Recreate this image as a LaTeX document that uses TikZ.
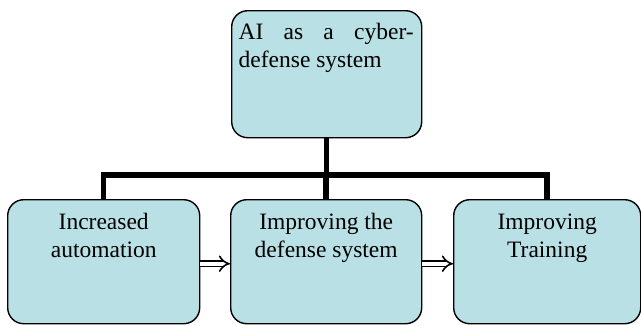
\documentclass[tikz,border=0pt]{standalone}
\usepackage{fontspec}
\setmainfont{Liberation Serif}
\usetikzlibrary{arrows.meta}
\definecolor{boxfill}{RGB}{185,224,228}
\begin{document}
\begin{tikzpicture}[x=1pt,y=-1pt,
  box/.style={draw=black, line width=1.4pt, fill=boxfill, rounded corners=16pt,
    inner sep=0pt, anchor=north west},
  conn/.style={line width=5.5pt, line join=miter},
  arr/.style={double=white, double distance=4pt, line width=1.6pt, -{Implies}}]
\useasboundingbox (0,0) rectangle (641,325);
\fontsize{23.5}{28}\selectfont
\node[box] (t) at (231,10) {\parbox[c][127pt][t]{190pt}{\hspace*{7pt}\rule{0pt}{29pt}\makebox[175pt][s]{AI as a cyber-}\\\hspace*{7pt}defense system}};
\node[box] (l) at (7,199) {\parbox[c][124pt][t]{192pt}{\centering\rule{0pt}{30pt}Increased\\automation}};
\node[box] (m) at (230,199) {\parbox[c][124pt][t]{191pt}{\centering\rule{0pt}{30pt}Improving the\\defense system}};
\node[box] (r) at (453,199) {\parbox[c][124pt][t]{187pt}{\centering\rule{0pt}{30pt}Improving\\Training}};
\coordinate (bar) at (326,175);
\draw[conn] (t.south) -- (t.south |- bar);
\draw[conn] (l.north) |- (bar) -| (r.north);
\draw[conn] (m.north) -- (m.north |- bar);
\draw[arr] ([yshift=-2pt]l.east) -- ([yshift=-2pt]m.west);
\draw[arr] ([yshift=-2pt]m.east) -- ([yshift=-2pt]r.west);
\end{tikzpicture}
\end{document}
